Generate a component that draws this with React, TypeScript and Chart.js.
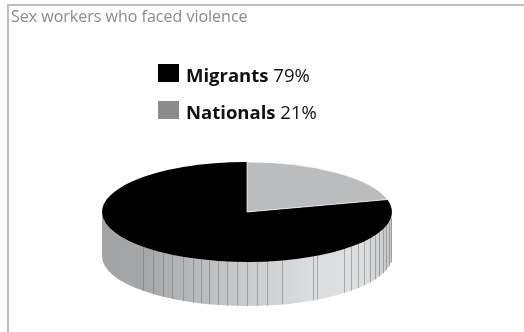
import { useEffect, useRef } from 'react';
import { Chart, registerables } from 'chart.js';

Chart.register(...registerables);

const titleText = 'Sex workers who faced violence';
const categories = ['Migrants', 'Nationals'];
const values = [79, 21];
const sliceColors = ['#000000', '#bbbcbe'];
const swatchColors = ['#000000', '#8c8c8c'];
// decorative facet lines on the cylinder side (degrees, 0 = right, 90 = front)
const facetAngles = [8, 12, 16, 20, 24, 28, 32, 36, 40, 44, 48, 61, 63, 76, 82, 86, 90, 94, 98, 101.5, 105, 108.5, 112, 116, 121, 125.5, 130.5, 136];

const FONT = '"Open Sans", "Noto Sans", sans-serif';
const TILT = 50 / 145;
const DEPTH = 44;

const pie3d = {
  id: 'pie3d',
  beforeDraw(chart: any) {
    const ctx = chart.ctx;
    ctx.save();
    // frame
    ctx.fillStyle = '#bdbdbd';
    ctx.fillRect(7, 4, chart.width - 7, 2);
    ctx.fillRect(7, 4, 2, chart.height - 4);
    // title
    ctx.fillStyle = '#8a8a8a';
    ctx.font = `16px ${FONT}`;
    ctx.textBaseline = 'alphabetic';
    ctx.fillText(titleText, 11, 22);
    // legend
    categories.forEach((c, i) => {
      const y = 64 + i * 37;
      ctx.fillStyle = swatchColors[i];
      ctx.fillRect(158, y, 21, 18);
      ctx.fillStyle = '#111111';
      ctx.font = `bold 18.5px ${FONT}`;
      ctx.fillText(c, 186, y + 18);
      const w = ctx.measureText(c).width;
      ctx.font = `18.5px ${FONT}`;
      ctx.fillText(' ' + values[i] + '%', 186 + w, y + 18);
    });
    ctx.restore();
  },
  beforeDatasetsDraw(chart: any) {
    const ctx = chart.ctx;
    const arc = chart.getDatasetMeta(0).data[0];
    const cx = arc.x, cy = arc.y;
    const rx = arc.outerRadius;
    const ry = rx * TILT;
    ctx.save();
    ctx.beginPath();
    ctx.ellipse(cx, cy, rx, ry, 0, 0, Math.PI, false);
    ctx.lineTo(cx - rx, cy + DEPTH);
    ctx.ellipse(cx, cy + DEPTH, rx, ry, 0, Math.PI, 0, true);
    ctx.closePath();
    const g = ctx.createLinearGradient(cx - rx, 0, cx + rx, 0);
    g.addColorStop(0, '#a2a3a5');
    g.addColorStop(0.15, '#a6a7a9');
    g.addColorStop(0.45, '#c6c7c9');
    g.addColorStop(0.72, '#dcdddf');
    g.addColorStop(0.9, '#dedfe0');
    g.addColorStop(1, '#c4c5c7');
    ctx.fillStyle = g;
    ctx.fill();
    ctx.strokeStyle = 'rgba(120,120,120,0.55)';
    ctx.lineWidth = 1;
    facetAngles.forEach((d) => {
      const a = (d * Math.PI) / 180;
      const x = Math.round(cx + rx * Math.cos(a)) + 0.5;
      const y = cy + ry * Math.sin(a);
      ctx.beginPath();
      ctx.moveTo(x, y);
      ctx.lineTo(x, y + DEPTH);
      ctx.stroke();
    });
    ctx.restore();
    ctx.save();
    ctx.translate(0, cy);
    ctx.scale(1, TILT);
    ctx.translate(0, -cy);
  },
  afterDatasetsDraw(chart: any) {
    chart.ctx.restore();
  },
};

export default function App() {
  const ref = useRef<HTMLCanvasElement>(null);
  useEffect(() => {
    if (!ref.current) return;
    const total = values.reduce((a, b) => a + b, 0);
    const chart = new Chart(ref.current, {
      type: 'pie',
      data: {
        labels: categories,
        datasets: [
          {
            data: values,
            backgroundColor: sliceColors,
            borderWidth: [0, 1],
            borderColor: '#ffffff',
            radius: 145,
          } as any,
        ],
      },
      options: {
        responsive: false,
        animation: false,
        rotation: (360 * values[1]) / total,
        layout: { padding: { left: 0, right: 30, top: 92, bottom: 0 } },
        plugins: {
          legend: { display: false },
          title: { display: false },
          tooltip: { enabled: false },
        },
        events: [],
      },
      plugins: [pie3d],
    });
    return () => chart.destroy();
  }, []);
  return (
    <div style={{ position: 'absolute', left: 0, top: 0, width: 524, height: 332, background: '#fff' }}>
      <canvas ref={ref} width={524} height={332} style={{ display: 'block' }} />
    </div>
  );
}
